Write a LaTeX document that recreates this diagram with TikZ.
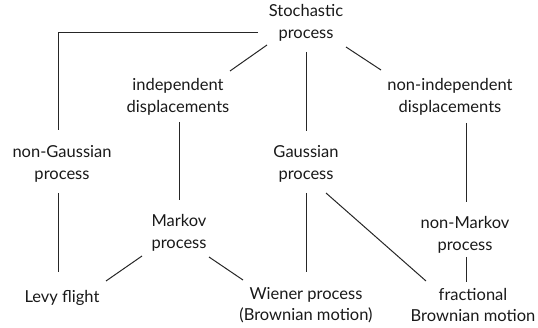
\documentclass[tikz,border=0pt]{standalone}
\usepackage{fontspec}
\setmainfont{Lato}
\begin{document}
\begin{tikzpicture}[x=1pt,y=-1pt,
  lbl/.style={align=center,inner sep=0pt,font=\fontsize{16.5}{21.5}\selectfont,text=black!90},
  link/.style={draw=black!85,line width=1pt}]
\useasboundingbox (0,0) rectangle (538,328);

% nodes
\node[lbl] (stoch)     at (306,23)  {Stochastic\\process};
\node[lbl] (indep)     at (178,97)  {independent\\displacements};
\node[lbl] (nonind)    at (450,97)  {non-independent\\displacements};
\node[lbl] (nongauss)  at (62,164)  {non-Gaussian\\process};
\node[lbl] (gauss)     at (306,164) {Gaussian\\process};
\node[lbl] (markov)    at (179,233) {Markov\\process};
\node[lbl] (nonmarkov) at (465,235) {non-Markov\\process};
\node[lbl] (levy)      at (62,298)  {Levy flight};
\node[lbl] (wiener)    at (306,305) {Wiener process\\(Brownian motion)};
\node[lbl] (fbm)       at (473,305) {fractional\\Brownian motion};

% connectors
\draw[link] ([shift={(-48,10)}]stoch.center) -| ([shift={(-4,-34)}]nongauss.center);
\draw[link] ([shift={(-39,22)}]stoch.center) -- ([shift={(52,-26)}]indep.center);
\draw[link] ([shift={(0,29)}]stoch.center) -- ([shift={(0,-33)}]gauss.center);
\draw[link] ([shift={(40,24)}]stoch.center) -- ([shift={(-69,-27)}]nonind.center);
\draw[link] ([shift={(1,25)}]indep.center) -- ([shift={(0,-33)}]markov.center);
\draw[link] ([shift={(16,26)}]nonind.center) -- ([shift={(1,-33)}]nonmarkov.center);
\draw[link] ([shift={(-4,29)}]nongauss.center) -- ([shift={(-4,-26)}]levy.center);
\draw[link] ([shift={(-37,23)}]markov.center) -- ([shift={(44,-17)}]levy.center);
\draw[link] ([shift={(30,24)}]markov.center) -- ([shift={(-63,-25)}]wiener.center);
\draw[link] ([shift={(0,29)}]gauss.center) -- ([shift={(0,-33)}]wiener.center);
\draw[link] ([shift={(20,29)}]gauss.center) -- ([shift={(-47,-24)}]fbm.center);
\draw[link] ([shift={(1,22)}]nonmarkov.center) -- ([shift={(-7,-23)}]fbm.center);
\end{tikzpicture}
\end{document}
